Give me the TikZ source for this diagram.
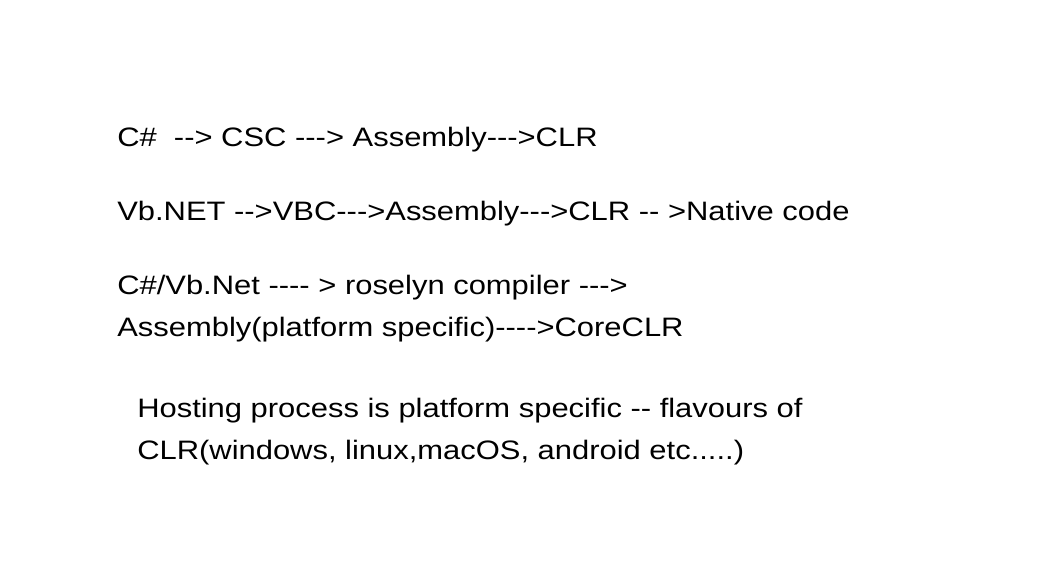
\documentclass[tikz,border=0pt]{standalone}
\usepackage{fontspec}
\setmainfont{Liberation Sans}[Ligatures=TeXOff, FakeStretch=1.16]
\usepackage{tikz}

\begin{document}
\begin{tikzpicture}[x=0.75pt,y=-0.75pt,
note/.style={anchor=base west, inner sep=0pt, font=\fontsize{20}{24}\selectfont}]
\useasboundingbox (0,0) rectangle (1055,584);
\node[note] (csharp) at (117,147) {C\#\ \ --> CSC ---> Assembly--->CLR};
\node[note] (vbnet) at (117,221) {Vb.NET -->VBC--->Assembly--->CLR -- >Native code};
\node[note] (roslyn) at (117,295) {C\#/Vb.Net ---- > roselyn compiler --->};
\node[note] (core) at (117,336) {Assembly(platform specific)---->CoreCLR};
\node[note] (hosting) at (137,417) {Hosting process is platform specific -- flavours of};
\node[note] (flavours) at (137,459) {CLR(windows, linux,macOS, android etc.....)};
\end{tikzpicture}
\end{document}
